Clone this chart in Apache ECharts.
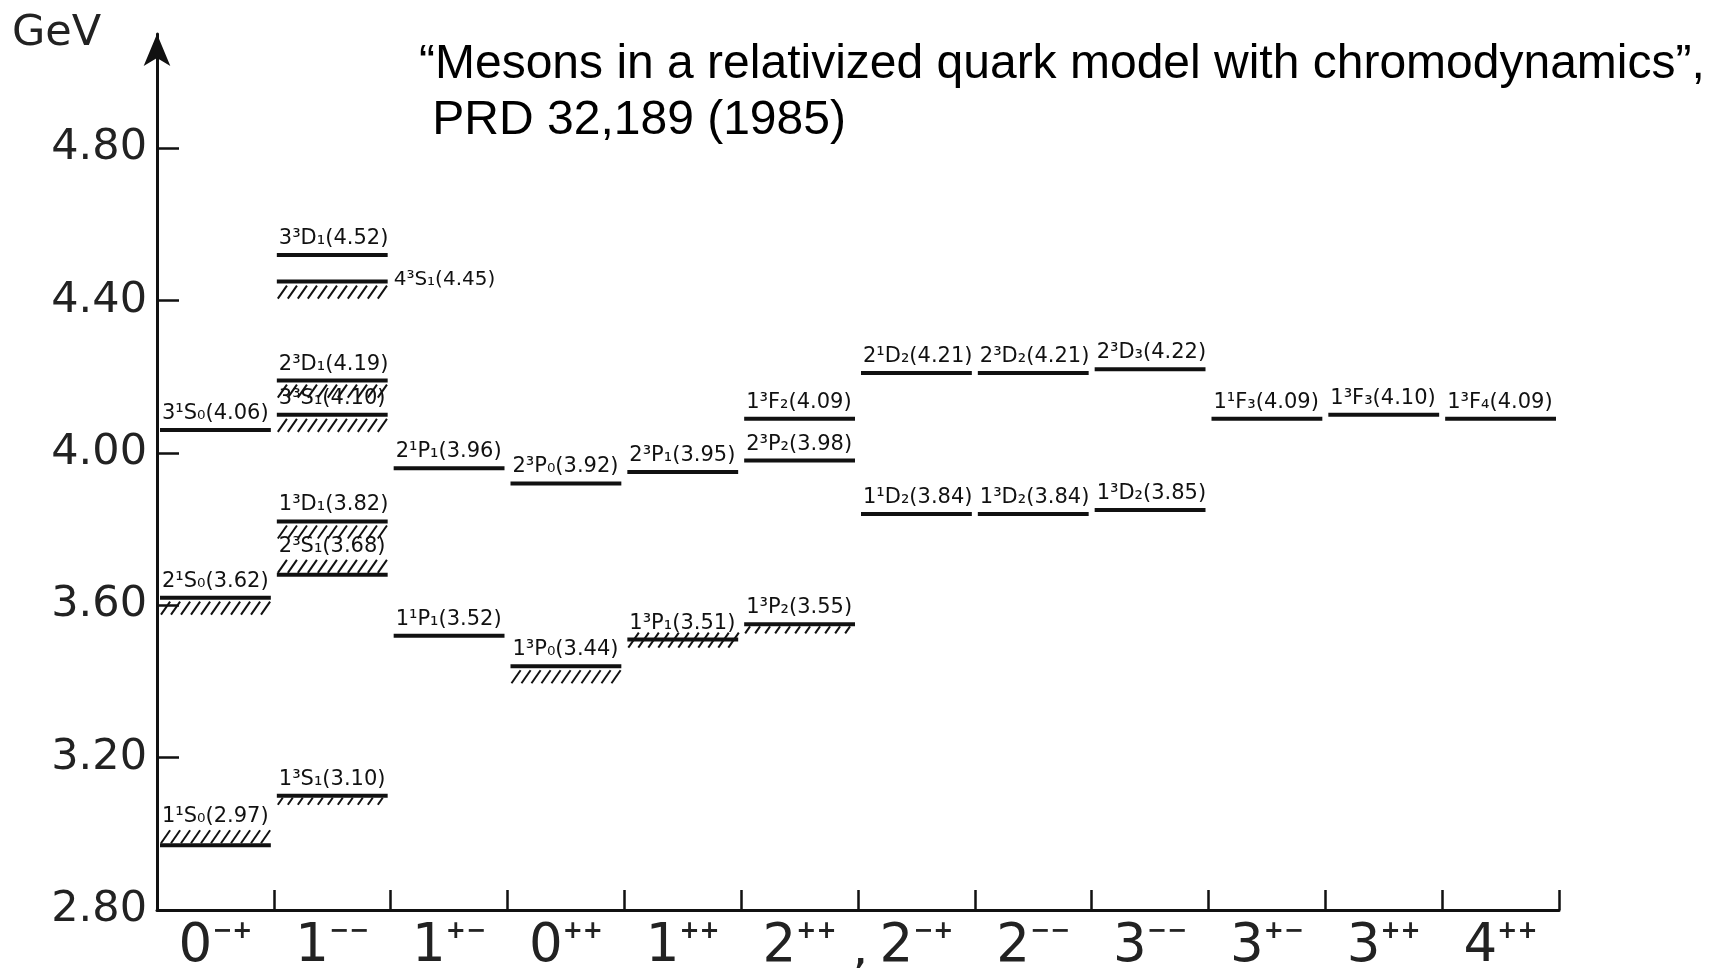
<!DOCTYPE html>
<html><head><meta charset="utf-8">
<script src="https://cdn.jsdelivr.net/npm/echarts@6/dist/echarts.min.js"></script>
<style>html,body{margin:0;padding:0;background:#fff}#c{width:1717px;height:968px}</style>
</head><body><div id="c"></div>
<script>
// J^PC categories (base number + C/P signs shown as superscript)
const categoryBase = ['0','1','1','0','1','2','2','2','3','3','3','4'];
const categorySign = ['−+','−−','+−','++','++','++','−+','−−','−−','+−','++','++'];
const yTicks = [2.8, 3.2, 3.6, 4.0, 4.4, 4.8];

// charmonium levels
const levelCat  = [0,0,0, 1,1,1,1,1,1,1, 2,2, 3,3, 4,4, 5,5,5, 6,6, 7,7, 8,8, 9, 10, 11];
const levelName = ['1¹S₀','2¹S₀','3¹S₀',
  '1³S₁','2³S₁','1³D₁','3³S₁','2³D₁','4³S₁','3³D₁',
  '1¹P₁','2¹P₁', '1³P₀','2³P₀', '1³P₁','2³P₁', '1³P₂','2³P₂','1³F₂',
  '1¹D₂','2¹D₂', '1³D₂','2³D₂', '1³D₂','2³D₃', '1¹F₃', '1³F₃', '1³F₄'];
const levelMass = [2.97,3.62,4.06,
  3.10,3.68,3.82,4.10,4.19,4.45,4.52,
  3.52,3.96, 3.44,3.92, 3.51,3.95, 3.55,3.98,4.09,
  3.84,4.21, 3.84,4.21, 3.85,4.22, 4.09, 4.10, 4.09];
// observed-state hatching
const levelHatch = ['above','below','none',
  'short','above','below','below','below','below','none',
  'none','none', 'below','none', 'cross','none', 'short','none','none',
  'none','none', 'none','none', 'none','none', 'none', 'none', 'none'];
const levelLabelSide = levelName.map(n => n === '4³S₁' ? 'right' : 'top');

const chart = echarts.init(document.getElementById('c'), null, {renderer: 'canvas'});
const ink = '#111';

function renderLevel(params, api) {
  const i = params.dataIndex;
  const p = api.coord([api.value(0), api.value(1)]);
  const bw = api.size([1, 0])[0];
  const x0 = p[0] - bw / 2 + 3, x1 = p[0] + bw / 2 - 3, y = p[1];
  const children = [{type: 'line', shape: {x1: x0, y1: y, x2: x1, y2: y}, style: {stroke: ink, lineWidth: 4}}];
  const h = levelHatch[i];
  if (h !== 'none') {
    let ya, yb;
    if (h === 'below') { ya = y + 4; yb = y + 17; }
    else if (h === 'short') { ya = y + 2; yb = y + 9; }
    else if (h === 'above') { ya = y - 15; yb = y - 2; }
    else { ya = y - 7; yb = y + 8; }
    const dx = (yb - ya) * 0.7;
    for (let x = x0 + 1; x + dx <= x1 + 1; x += 10) {
      children.push({type: 'line', shape: {x1: x, y1: yb, x2: x + dx, y2: ya}, style: {stroke: ink, lineWidth: 2}});
    }
  }
  const label = levelName[i] + '(' + levelMass[i].toFixed(2) + ')';
  if (levelLabelSide[i] === 'right') {
    children.push({type: 'text', style: {text: label, x: x1 + 6, y: y - 2, fill: ink,
      font: '20px "DejaVu Sans"', align: 'left', verticalAlign: 'middle'}});
  } else {
    const off = h === 'above' ? 18 : 6;
    children.push({type: 'text', style: {text: label, x: x0 + 2, y: y - off, fill: ink,
      font: '21px "DejaVu Sans"', align: 'left', verticalAlign: 'bottom'}});
  }
  return {type: 'group', children};
}

const option = {
  backgroundColor: '#fff',
  animation: false,
  grid: {left: 157, right: 158, top: 34, bottom: 58, containLabel: false, outerBoundsMode: 'none'},
  xAxis: {
    type: 'category',
    data: categoryBase.map((b, i) => b + categorySign[i]),
    boundaryGap: true,
    axisLine: {lineStyle: {color: ink, width: 3}},
    axisTick: {show: true, inside: true, length: 20, lineStyle: {color: ink, width: 2.5}},
    axisLabel: {
      interval: 0, margin: 10, color: '#222',
      formatter: (v, i) => '{b|' + categoryBase[i] + '}{s|' + categorySign[i] + '}',
      rich: {
        b: {fontSize: 53, fontFamily: 'DejaVu Sans', lineHeight: 54, color: '#222'},
        s: {fontSize: 24, fontFamily: 'DejaVu Sans', fontWeight: 'bold', lineHeight: 24, verticalAlign: 'top', color: '#222'}
      }
    },
    splitLine: {show: false}
  },
  yAxis: {
    type: 'value', min: 2.8, max: 5.1,
    axisLine: {show: true, symbol: ['none', 'arrow'], symbolSize: [20, 32], lineStyle: {color: ink, width: 3}},
    axisTick: {show: true, inside: true, length: 22, customValues: yTicks, lineStyle: {color: ink, width: 2.5}},
    axisLabel: {customValues: yTicks, formatter: v => v.toFixed(2), fontSize: 43, fontFamily: 'DejaVu Sans', color: '#222', margin: 10},
    splitLine: {show: false}
  },
  graphic: [
    {type: 'text', left: 12, top: 12, style: {text: 'GeV', font: '43px "DejaVu Sans"', fill: '#222'}},
    {type: 'text', left: 419, top: 37, style: {text: '“Mesons in a relativized quark model with chromodynamics”,\n PRD 32,189 (1985)',
      font: '48px "Liberation Sans"', lineHeight: 56, fill: '#000'}},
    {type: 'text', left: 855, top: 941, style: {text: ',', font: 'bold 30px "DejaVu Sans"', fill: '#222'}}
  ],
  series: [{
    type: 'custom',
    coordinateSystem: 'cartesian2d',
    renderItem: renderLevel,
    encode: {x: 0, y: 1},
    clip: false,
    data: levelMass.map((m, i) => [levelCat[i], m])
  }]
};
chart.setOption(option);
</script>
</body></html>
